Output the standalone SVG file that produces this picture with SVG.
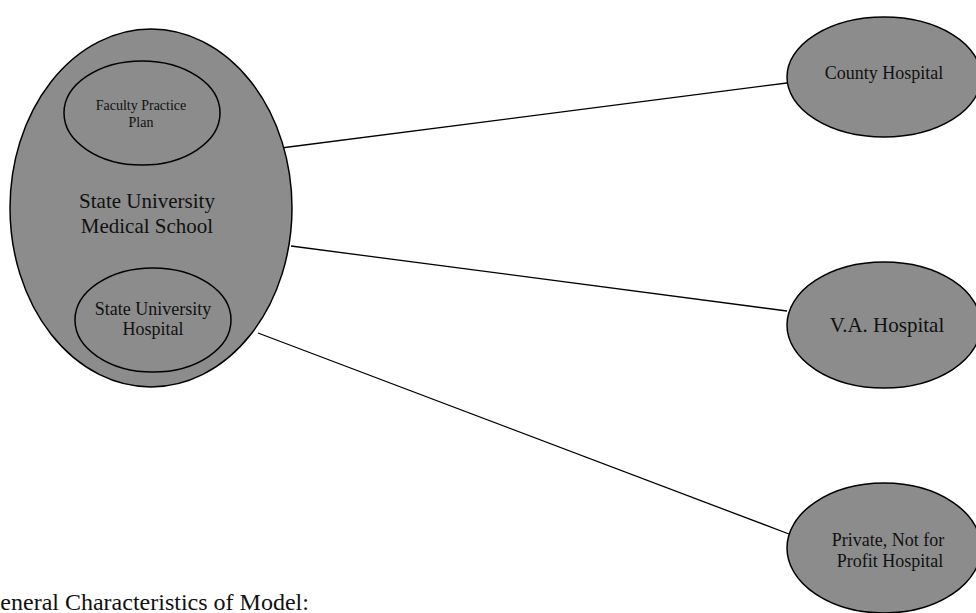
<svg xmlns="http://www.w3.org/2000/svg" width="976" height="613" viewBox="0 0 976 613">
<style>
.n{fill:#8c8c8c;stroke:#000;stroke-width:1.5}
.t{font-family:"Liberation Serif","Times New Roman",serif;fill:#111;text-anchor:middle}
.c{stroke:#000;stroke-width:1.3;fill:none}
</style>
<rect width="976" height="613" fill="#fff"/>
<g id="connectors">
<line class="c" x1="281" y1="148" x2="787" y2="83"/>
<line class="c" x1="291" y1="246" x2="787" y2="311"/>
<line class="c" x1="258" y1="333" x2="789" y2="534"/>
</g>
<g id="medical-school">
<ellipse class="n" cx="151" cy="208" rx="141" ry="179"/>
<text class="t" font-size="21"><tspan x="147" y="208">State University</tspan><tspan x="147" y="233">Medical School</tspan></text>
</g>
<g id="faculty-practice-plan">
<ellipse class="n" cx="142" cy="113" rx="78" ry="52"/>
<text class="t" font-size="14"><tspan x="141" y="110">Faculty Practice</tspan><tspan x="141" y="127">Plan</tspan></text>
</g>
<g id="state-university-hospital">
<ellipse class="n" cx="153" cy="320" rx="78" ry="52"/>
<text class="t" font-size="18"><tspan x="153" y="315">State University</tspan><tspan x="153" y="335">Hospital</tspan></text>
</g>
<g id="county-hospital">
<ellipse class="n" cx="884" cy="77" rx="97" ry="60"/>
<text class="t" font-size="18" x="884" y="79">County Hospital</text>
</g>
<g id="va-hospital">
<ellipse class="n" cx="884" cy="325" rx="97" ry="63"/>
<text class="t" font-size="21" x="887" y="332">V.A. Hospital</text>
</g>
<g id="private-hospital">
<ellipse class="n" cx="884" cy="548" rx="97" ry="65"/>
<text class="t" font-size="18"><tspan x="888" y="546">Private, Not for</tspan><tspan x="890" y="567">Profit Hospital</tspan></text>
</g>
<text x="-17" y="610" font-family="'Liberation Serif','Times New Roman',serif" font-size="24" fill="#111">General Characteristics of Model:</text>
</svg>
